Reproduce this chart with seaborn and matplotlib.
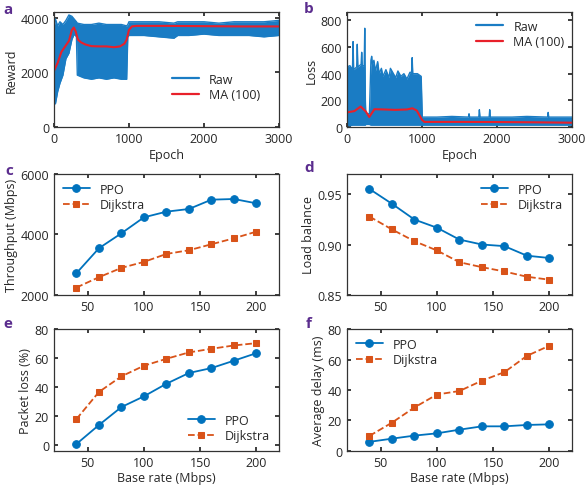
import matplotlib
matplotlib.use("Agg")
import matplotlib.pyplot as plt
import seaborn as sns

# ---- data ----
# (a) reward: raw envelope (upper / lower) and moving average
rw_x = [0, 20, 50, 80, 120, 160, 200, 240, 270, 300, 312, 400, 500, 600, 700, 800,
        900, 970, 985, 1000, 1200, 1400, 1600, 1650, 1800, 2000, 2200, 2400, 2600, 2800, 3000]
rw_hi = [3600, 3950, 3700, 3850, 3750, 3900, 4100, 4050, 3950, 3850, 3800, 3750, 3750, 3800, 3750, 3750,
         3750, 3700, 3750, 3850, 3850, 3850, 3800, 3850, 3850, 3850, 3800, 3850, 3850, 3850, 3900]
rw_lo = [1000, 850, 1300, 1600, 1900, 2500, 2700, 3200, 3400, 3300, 1900, 1800, 1750, 1800, 1750, 1800,
         1750, 1750, 3300, 3350, 3350, 3300, 3250, 3350, 3350, 3400, 3350, 3350, 3350, 3300, 3350]
rw_ma_x = [0, 50, 100, 150, 200, 240, 265, 290, 320, 360, 420, 500, 600, 700, 800, 880,
           940, 970, 1000, 1040, 1100, 1500, 2000, 2500, 3000]
rw_ma = [2050, 2350, 2750, 2950, 3150, 3550, 3640, 3500, 3200, 3100, 3020, 2960, 2950, 2950, 2920, 2950,
         3050, 3200, 3550, 3680, 3700, 3700, 3690, 3680, 3680]

# (b) loss: raw envelope and moving average
ls_x = [0, 40, 74, 82, 90, 130, 138, 146, 189, 197, 205, 230, 238, 246, 252, 300, 320, 330, 340,
        360, 380, 410, 430, 460, 480, 520, 560, 580, 620, 650, 680, 720, 760, 800, 840,
        862, 870, 878, 940, 990, 1005, 1200, 1400, 1620, 1628, 1636, 1758, 1766,
        1774, 1896, 1904, 1912, 2200, 2400, 2675, 2683, 2691, 3000]
ls_hi = [450, 460, 430, 640, 430, 450, 620, 450, 470, 560, 460, 460, 740, 200, 100, 100, 500, 530, 470,
         500, 420, 490, 400, 440, 380, 430, 370, 440, 400, 370, 420, 380, 400, 360, 410,
         410, 520, 400, 400, 380, 75, 75, 80, 75, 100, 75, 75, 130,
         75, 75, 130, 75, 75, 80, 75, 110, 75, 75]
ls_lo = [15, 10, 15, 15, 15, 15, 15, 15, 15, 15, 15, 15, 15, 15, 20, 20, 15, 15, 15,
         15, 15, 15, 15, 15, 15, 15, 15, 15, 15, 15, 15, 15, 15, 15, 15,
         15, 15, 15, 15, 15, 15, 15, 15, 15, 15, 15, 15, 15,
         15, 15, 15, 15, 15, 15, 15, 15, 15, 15]
ls_ma_x = [0, 100, 183, 252, 298, 367, 500, 642, 800, 872, 930, 963, 1000, 1032, 1500, 2000, 2500, 3000]
ls_ma = [110, 120, 154, 117, 76, 134, 132, 129, 132, 141, 125, 93, 55, 39, 39, 38, 36, 33]

# (c-f) base rate sweeps
base_rate = [40, 60, 80, 100, 120, 140, 160, 180, 200]
thr_ppo = [2716, 3543, 4039, 4567, 4755, 4843, 5152, 5174, 5030]
thr_dij = [2242, 2584, 2893, 3091, 3355, 3477, 3675, 3873, 4094]
lb_ppo = [0.9552, 0.9405, 0.9248, 0.9167, 0.9049, 0.9000, 0.8984, 0.8889, 0.8866]
lb_dij = [0.9278, 0.9150, 0.9033, 0.8941, 0.8824, 0.8775, 0.8732, 0.8680, 0.8650]
pl_ppo = [0.7, 13.8, 26.2, 33.6, 42.3, 49.7, 53.1, 58.2, 63.4]
pl_dij = [17.9, 36.6, 47.4, 54.7, 59.5, 63.9, 66.4, 68.7, 70.3]
dl_ppo = [5.9, 8.0, 10.0, 11.5, 13.9, 16.1, 16.1, 17.0, 17.4]
dl_dij = [9.8, 18.5, 28.5, 37.0, 39.3, 46.1, 51.7, 62.4, 69.1]

BLUE = "#0072BD"
RAW_BLUE = "#1A7CC4"
ORANGE = "#D95319"
RED = "#E8202A"
PURPLE = "#5B2D8E"

sns.set_theme(style="ticks")
plt.rcParams["font.family"] = ["Open Sans", "DejaVu Sans"]
plt.rcParams.update({
    "font.size": 9,
    "axes.labelsize": 9,
    "xtick.labelsize": 9,
    "ytick.labelsize": 9,
    "legend.fontsize": 9,
    "axes.edgecolor": "#333333",
    "axes.linewidth": 0.9,
    "xtick.direction": "in",
    "ytick.direction": "in",
    "xtick.top": True,
    "ytick.right": True,
    "xtick.major.size": 3,
    "ytick.major.size": 3,
    "axes.labelpad": 2,
})

fig = plt.figure(figsize=(5.86, 4.89), dpi=100)
col_left = [0.092, 0.592]
row_bottom = [0.738, 0.395, 0.076]
row_height = [0.235, 0.247, 0.249]
w = 0.384
axes = []
for r in range(3):
    for c in range(2):
        axes.append(fig.add_axes([col_left[c], row_bottom[r], w, row_height[r]]))
ax_a, ax_b, ax_c, ax_d, ax_e, ax_f = axes


def training(ax, x, lo, hi, ma_x, ma, ylim, yticks, ylabel, **leg):
    ax.fill_between(x, lo, hi, color=RAW_BLUE, lw=0)
    sns.lineplot(x=x, y=hi, ax=ax, color=RAW_BLUE, lw=1.0, estimator=None, label="Raw")
    sns.lineplot(x=x, y=lo, ax=ax, color=RAW_BLUE, lw=1.0, estimator=None)
    sns.lineplot(x=ma_x, y=ma, ax=ax, color=RED, lw=1.5, estimator=None, label="MA (100)")
    ax.set_xlim(0, 3000)
    ax.set_ylim(*ylim)
    ax.set_yticks(yticks)
    ax.set_xticks([0, 1000, 2000, 3000])
    ax.set_xlabel("Epoch")
    ax.set_ylabel(ylabel)
    lg = ax.legend(frameon=False, handlelength=2.2, borderaxespad=0.2,
                   labelspacing=0.2, **leg)
    for h in lg.get_lines():
        h.set_linewidth(1.6)


training(ax_a, rw_x, rw_lo, rw_hi, rw_ma_x, rw_ma, (0, 4200), [0, 2000, 4000], "Reward",
         loc="center", bbox_to_anchor=(0.72, 0.35))
training(ax_b, ls_x, ls_lo, ls_hi, ls_ma_x, ls_ma, (0, 860), [0, 200, 400, 600, 800], "Loss",
         loc="upper right")


def sweep(ax, ppo, dij, ylim, yticks, ylabel, loc, xlabel=None):
    sns.lineplot(x=base_rate, y=ppo, ax=ax, color=BLUE, lw=1.3, marker="o",
                 markersize=5.5, markeredgecolor=BLUE, label="PPO")
    sns.lineplot(x=base_rate, y=dij, ax=ax, color=ORANGE, lw=1.3, marker="s",
                 markersize=4.5, markeredgecolor=ORANGE, linestyle="--",
                 dashes=(3, 2), label="Dijkstra")
    ax.set_xlim(20, 220)
    ax.set_xticks([50, 100, 150, 200])
    ax.set_ylim(*ylim)
    ax.set_yticks(yticks)
    ax.set_ylabel(ylabel)
    ax.set_xlabel(xlabel if xlabel else "")
    ax.legend(loc=loc, frameon=False, handlelength=2.2,
              borderaxespad=0.3, labelspacing=0.2)


sweep(ax_c, thr_ppo, thr_dij, (2000, 6000), [2000, 4000, 6000], "Throughput (Mbps)", "upper left")
sweep(ax_d, lb_ppo, lb_dij, (0.85, 0.97), [0.85, 0.90, 0.95], "Load balance", "upper right")
ax_d.set_yticklabels(["0.85", "0.90", "0.95"])
sweep(ax_e, pl_ppo, pl_dij, (-4, 80), [0, 20, 40, 60, 80], "Packet loss (%)", "lower right",
      "Base rate (Mbps)")
sweep(ax_f, dl_ppo, dl_dij, (0, 80), [0, 20, 40, 60, 80], "Average delay (ms)", "upper left",
      "Base rate (Mbps)")

# panel letters
for lab, (px, py) in zip("abcdef", [(8, 10), (309, 9), (9, 171), (309, 168), (8, 324), (309, 324)]):
    fig.text(px / 586, 1 - py / 489, lab, color=PURPLE, fontsize=11, fontweight="bold",
             ha="center", va="center")

fig.savefig("out.png", dpi=100)
